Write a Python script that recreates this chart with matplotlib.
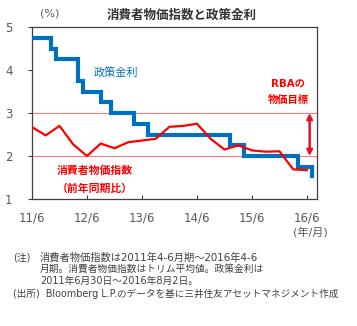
import datetime as dt
import matplotlib
matplotlib.use("Agg")
import matplotlib.pyplot as plt

plt.rcParams['font.family'] = ['DejaVu Sans', 'Noto Sans CJK JP']

# --- data ---------------------------------------------------------------
# RBA cash rate: change dates and new levels (%)
rate_dates = ["2011-06-30", "2011-11-01", "2011-12-06", "2012-05-01", "2012-06-05",
              "2012-10-02", "2012-12-04", "2013-05-07", "2013-08-06", "2015-02-03",
              "2015-05-05", "2016-05-03", "2016-08-02"]
rate_values = [4.75, 4.50, 4.25, 3.75, 3.50, 3.25, 3.00, 2.75, 2.50, 2.25, 2.00, 1.75, 1.50]

# Trimmed-mean CPI, y/y (%), quarterly 2011 Q2 - 2016 Q2
cpi_quarters = ["2011Q2", "2011Q3", "2011Q4", "2012Q1", "2012Q2", "2012Q3", "2012Q4",
                "2013Q1", "2013Q2", "2013Q3", "2013Q4", "2014Q1", "2014Q2", "2014Q3",
                "2014Q4", "2015Q1", "2015Q2", "2015Q3", "2015Q4", "2016Q1", "2016Q2"]
cpi_values = [2.67, 2.48, 2.70, 2.27, 2.00, 2.29, 2.18, 2.32, 2.36, 2.40, 2.68,
              2.70, 2.75, 2.40, 2.15, 2.25, 2.13, 2.10, 2.11, 1.69, 1.67]

target_band = [2.0, 3.0]
x_tick_labels = ["11/6", "12/6", "13/6", "14/6", "15/6", "16/6"]
y_ticks = [1, 2, 3, 4, 5]

# --- helpers --------------------------------------------------------------
origin = dt.date(2011, 6, 30)


def months_since_origin(d):
    d = dt.date.fromisoformat(d)
    return (d - origin).days / 30.4375


def quarter_pos(q):
    year, qn = int(q[:4]), int(q[-1])
    return (year - 2011) * 12 + (qn - 2) * 3


rate_x = [months_since_origin(d) for d in rate_dates]
cpi_x = [quarter_pos(q) for q in cpi_quarters]

W, H = 357, 326
fig = plt.figure(figsize=(W / 100, H / 100), dpi=100)
fig.patch.set_facecolor("white")

ax = fig.add_axes([32 / W, 1 - 199 / H, 285 / W, 172 / H])

gray = "#595959"
blue = "#0070C0"
red = "#FF0000"

# target band lines
for v in target_band:
    ax.axhline(v, color="#F08080", lw=0.8, zorder=1)

# policy rate as a step line (last level drawn at the end of the series)
step_x = rate_x[:-1] + [rate_x[-1]]
step_y = rate_values[:-1] + [rate_values[-2]]
ax.step(step_x, step_y, where="post", color=blue, lw=3.0, zorder=3,
        solid_joinstyle="miter")
ax.plot([rate_x[-1], rate_x[-1]], [rate_values[-2], rate_values[-1]],
        color=blue, lw=3.0, zorder=3, solid_capstyle="butt")

# CPI line
ax.plot(cpi_x, cpi_values, color=red, lw=1.6, zorder=4)

# double arrow for the target band
ax.annotate("", xy=(60.6, target_band[1]), xytext=(60.6, target_band[0]),
            arrowprops=dict(arrowstyle="<|-|>", color="#E8112D", lw=1.8,
                            mutation_scale=8, shrinkA=0, shrinkB=0), zorder=5)

ax.set_xlim(0, 62.2)
ax.set_ylim(1, 5)
ax.set_xticks([12 * i for i in range(len(x_tick_labels))])
ax.set_xticklabels(x_tick_labels)
ax.set_yticks(y_ticks)
ax.set_yticklabels([str(v) for v in y_ticks])

for s in ax.spines.values():
    s.set_color("#404040")
    s.set_linewidth(0.9)

ax.tick_params(axis="x", direction="in", length=3, color="#404040",
               labelsize=8.5, labelcolor=gray, pad=9)
ax.tick_params(axis="y", direction="out", length=3, color="#404040",
               labelsize=8.5, labelcolor=gray, pad=11)

# series labels
ax.text(18.3, 3.93, "政策金利", color=blue, fontsize=8.0, ha="center", va="center")
ax.text(13.7, 1.67, "消費者物価指数", color=red, fontsize=7.8, ha="center",
        va="center", fontweight="bold")
ax.text(13.7, 1.25, "（前年同期比）", color=red, fontsize=7.8, ha="center",
        va="center", fontweight="bold")
ax.text(55.9, 3.67, "RBAの", color=red, fontsize=7.4, ha="center", va="center",
        fontweight="bold")
ax.text(55.9, 3.30, "物価目標", color=red, fontsize=7.4, ha="center", va="center",
        fontweight="bold")

# title and units
fig.text(182 / W, 1 - 15 / H, "消費者物価指数と政策金利", ha="center", va="center",
         fontsize=9.0, fontweight="bold", color="#333333")
fig.text(50 / W, 1 - 14 / H, "(%)", ha="center", va="center", fontsize=8,
         color=gray)
fig.text(310 / W, 1 - 232 / H, "(年/月)", ha="center", va="center", fontsize=8,
         color=gray)

# notes
note_color = "#404040"
fs = 7.0
fig.text(13 / W, 1 - 257 / H, "(注)", ha="left", va="center", fontsize=fs, color=note_color)
fig.text(40 / W, 1 - 257 / H, "消費者物価指数は2011年4-6月期～2016年4-6",
         ha="left", va="center", fontsize=7.4, color=note_color)
fig.text(40 / W, 1 - 269 / H, "月期。消費者物価指数はトリム平均値。政策金利は",
         ha="left", va="center", fontsize=fs, color=note_color)
fig.text(40 / W, 1 - 281 / H, "2011年6月30日～2016年8月2日。",
         ha="left", va="center", fontsize=fs, color=note_color)
fig.text(13 / W, 1 - 294 / H, "(出所)  Bloomberg L.P.のデータを基に三井住友アセットマネジメント作成",
         ha="left", va="center", fontsize=6.9, color=note_color)

fig.savefig("out.png", dpi=100, facecolor="white")
